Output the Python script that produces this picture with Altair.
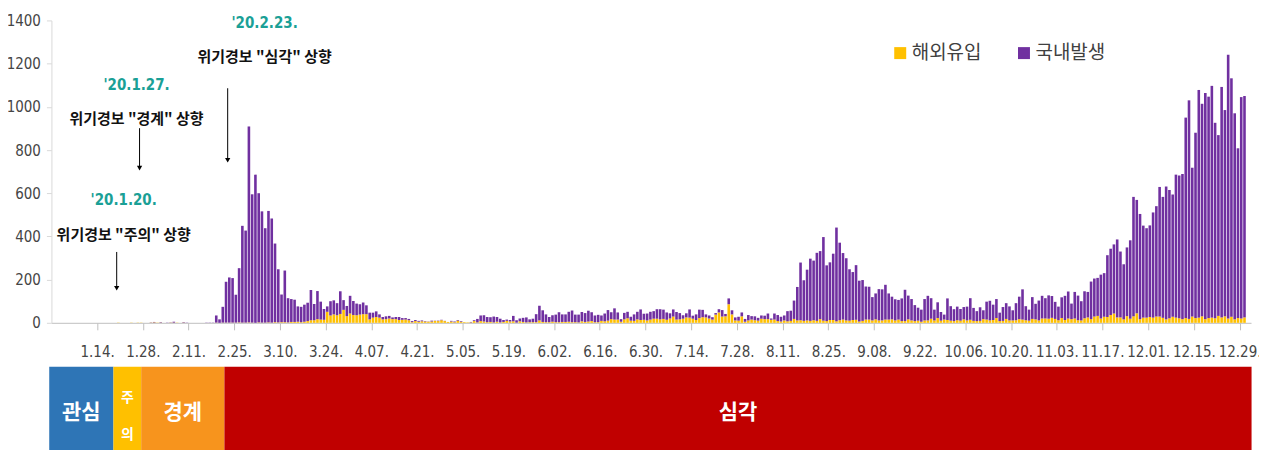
import altair as alt
import pandas as pd

# ---------------- data (daily new cases, 2020-01-20 .. 2020-12-30) ----------------
total_jan = [1, 0, 0, 0, 1, 0, 1, 1, 0, 0, 2, 4]  # Jan 20-31
imp_jan = [1, 0, 0, 0, 1, 0, 1, 1, 0, 0, 1, 2]
total_feb = [1, 3, 0, 1, 2, 5, 1, 0, 3, 1, 0, 0, 0, 0, 0, 1, 1, 1, 34, 16,
             74, 190, 210, 207, 130, 253, 449, 427, 909]
imp_feb = [1, 1, 0, 0, 1, 1, 1, 0, 1, 0, 0, 0, 0, 0, 0, 0, 0, 0, 1, 0,
           1, 1, 1, 1, 1, 2, 1, 1, 2]
total_mar = [595, 686, 600, 516, 438, 518, 483, 367, 248, 131, 242, 114, 110, 107, 76, 74,
             84, 93, 152, 87, 147, 98, 64, 76, 100, 104, 91, 146, 105, 78, 125]
imp_mar = [1, 0, 2, 1, 1, 2, 1, 3, 2, 3, 3, 2, 4, 4, 5, 3, 5, 8, 12, 12, 17, 15, 14, 51,
           34, 39, 35, 41, 60, 31, 43]
total_apr = [101, 89, 86, 94, 81, 47, 47, 53, 39, 27, 30, 32, 25, 27, 27, 22, 22, 18, 8, 13,
             9, 11, 8, 6, 10, 10, 10, 14, 9, 4]
imp_apr = [36, 35, 38, 40, 40, 16, 24, 27, 24, 16, 17, 20, 17, 17, 13, 14, 15, 12, 3, 8,
           5, 7, 6, 5, 6, 9, 8, 12, 8, 4]
total_may = [9, 6, 13, 8, 3, 2, 4, 12, 18, 34, 35, 27, 26, 29, 27, 19, 13, 15, 13, 32,
             12, 20, 23, 25, 16, 19, 40, 79, 58, 39, 27]
imp_may = [6, 3, 10, 5, 3, 2, 2, 8, 2, 8, 6, 3, 4, 2, 5, 2, 4, 9, 6, 7,
           1, 7, 4, 2, 3, 3, 3, 11, 4, 3, 3]
total_jun = [35, 38, 49, 39, 39, 51, 57, 38, 38, 50, 45, 56, 49, 34, 37, 34, 43, 59, 49, 67,
             48, 17, 46, 51, 28, 39, 51, 62, 42, 43]
imp_jun = [5, 3, 3, 4, 4, 5, 3, 3, 2, 7, 4, 6, 8, 3, 3, 9, 7, 10, 17, 15,
           15, 5, 16, 21, 10, 9, 16, 13, 14, 11]
total_jul = [51, 54, 63, 63, 61, 48, 44, 62, 50, 45, 35, 44, 62, 33, 39, 61, 60, 39, 34, 26,
             45, 63, 59, 41, 113, 58, 25, 28, 48, 18, 36]
imp_jul = [15, 19, 19, 16, 18, 14, 20, 29, 15, 16, 19, 25, 24, 19, 13, 22, 26, 25, 20, 15,
           38, 48, 29, 30, 86, 39, 11, 10, 30, 5, 11]
total_aug = [31, 30, 23, 34, 33, 43, 20, 43, 36, 28, 34, 54, 56, 103, 166, 279, 197, 246, 297, 288,
             324, 332, 397, 266, 280, 320, 441, 371, 323, 299, 248]
imp_aug = [15, 12, 10, 19, 17, 17, 14, 15, 8, 6, 11, 7, 9, 18, 11, 12, 9, 11, 9, 12,
           9, 17, 10, 8, 13, 13, 7, 12, 15, 11, 10]
total_sep = [235, 267, 195, 198, 168, 167, 119, 136, 156, 155, 176, 136, 121, 109, 106, 113, 153, 126, 110, 82,
             70, 61, 110, 125, 114, 61, 95, 50, 38, 113]
imp_sep = [13, 14, 6, 9, 15, 15, 11, 16, 11, 11, 15, 15, 16, 11, 15, 8, 8, 16, 11, 8,
           10, 5, 11, 11, 19, 11, 22, 10, 15, 13]
total_oct = [77, 63, 75, 64, 73, 75, 114, 69, 54, 72, 58, 98, 102, 84, 110, 47, 73, 91, 76, 58,
             91, 121, 155, 77, 61, 119, 88, 103, 125, 114, 127]
imp_oct = [10, 8, 12, 10, 16, 11, 14, 9, 8, 9, 17, 15, 11, 13, 22, 8, 9, 18, 11, 11,
           12, 17, 15, 12, 10, 18, 16, 11, 20, 20, 19]
total_nov = [124, 97, 75, 118, 125, 145, 89, 143, 126, 100, 146, 143, 191, 205, 208, 223, 230, 313, 343, 363,
             386, 330, 271, 349, 382, 583, 569, 504, 450, 438]
imp_nov = [23, 18, 12, 22, 13, 20, 17, 20, 12, 11, 21, 25, 17, 29, 32, 20, 28, 27, 36, 43,
           25, 25, 16, 31, 19, 30, 44, 17, 24, 24]
total_dec = [451, 511, 540, 629, 583, 631, 615, 594, 686, 682, 689, 950, 1030, 718, 880, 1078, 1014, 1064, 1047, 1097,
             926, 869, 1092, 985, 1241, 1132, 970, 808, 1045, 1050]
imp_dec = [27, 24, 29, 29, 23, 16, 21, 28, 24, 21, 17, 22, 18, 29, 22, 24, 30, 17, 22, 24,
           21, 32, 25, 30, 20, 28, 16, 22, 20, 25]

series_names = ["해외유입", "국내발생"]
series_colors = ["#FFC000", "#7030A0"]

tick_dates = ["2020-01-14", "2020-01-28", "2020-02-11", "2020-02-25", "2020-03-10", "2020-03-24",
              "2020-04-07", "2020-04-21", "2020-05-05", "2020-05-19", "2020-06-02", "2020-06-16",
              "2020-06-30", "2020-07-14", "2020-07-28", "2020-08-11", "2020-08-25", "2020-09-08",
              "2020-09-22", "2020-10-06", "2020-10-20", "2020-11-03", "2020-11-17", "2020-12-01",
              "2020-12-15", "2020-12-29"]
y_ticks = [0, 200, 400, 600, 800, 1000, 1200, 1400]

ann_dates = ["2020-01-20T00:00:00", "2020-01-27T00:00:00", "2020-02-23T00:00:00"]
ann_years = ["'20.1.20.", "'20.1.27.", "'20.2.23."]
ann_texts = ['위기경보 "주의" 상향', '위기경보 "경계" 상향', '위기경보 "심각" 상향']

levels = ["관심", "주의", "경계", "심각"]
level_start = ["2019-12-30T08:00:00", "2020-01-19T00:00:00", "2020-01-27T12:00:00", "2020-02-22T00:00:00"]
level_end = ["2020-01-19T00:00:00", "2020-01-27T12:00:00", "2020-02-22T00:00:00", "2021-01-01T16:00:00"]
level_colors = ["#2E75B6", "#FFC000", "#F7941D", "#C00000"]

# ---------------- build table ----------------
totals = (total_jan + total_feb + total_mar + total_apr + total_may + total_jun +
          total_jul + total_aug + total_sep + total_oct + total_nov + total_dec)
imports = (imp_jan + imp_feb + imp_mar + imp_apr + imp_may + imp_jun +
           imp_jul + imp_aug + imp_sep + imp_oct + imp_nov + imp_dec)
dates = pd.date_range("2020-01-20", periods=len(totals), freq="D")
rows = []
for d, t, im in zip(dates, totals, imports):
    ds = (d + pd.Timedelta(hours=12)).strftime("%Y-%m-%dT%H:%M:%S")
    rows.append({"date": ds, "series": series_names[0], "value": im, "ord": 0})
    rows.append({"date": ds, "series": series_names[1], "value": t - im, "ord": 1})
df = pd.DataFrame(rows)

num_font = "Liberation Sans Narrow, DejaVu Sans Condensed, sans-serif"
kr_font = "Noto Sans CJK KR"


def dt(s):
    ts = pd.Timestamp(s)
    return alt.DateTime(year=ts.year, month=ts.month, date=ts.day, hours=ts.hour, minutes=ts.minute)


xscale = alt.Scale(domain=[dt("2019-12-31T00:00"), dt("2021-01-01T12:00")], nice=False, padding=0)
yscale = alt.Scale(domain=[0, 1400], nice=False)

bars = alt.Chart(df).mark_bar(size=2.6).encode(
    x=alt.X("date:T", scale=xscale,
            axis=alt.Axis(values=[dt(t) for t in tick_dates], format="%-m.%d.", title=None,
                          labelFont=num_font, labelFontSize=15, labelColor="#454545",
                          tickColor="#BFBFBF", domainColor="#BFBFBF", tickSize=7,
                          labelPadding=15, grid=False, labelAngle=0, labelFlush=False,
                          labelOverlap=False)),
    y=alt.Y("value:Q", stack="zero", scale=yscale,
            axis=alt.Axis(values=y_ticks, format="d", title=None, labelFont=num_font,
                          labelFontSize=15, labelColor="#454545", tickColor="#D9D9D9",
                          domainColor="#D9D9D9", tickSize=5, labelPadding=6, grid=False)),
    color=alt.Color("series:N", scale=alt.Scale(domain=series_names, range=series_colors),
                    legend=alt.Legend(orient="none", legendX=841, legendY=23, direction="horizontal",
                                      title=None, symbolType="square", symbolSize=144,
                                      symbolStrokeWidth=0, labelFont=kr_font, labelFontSize=19,
                                      labelColor="#404040", columnPadding=33, labelOffset=2,
                                      padding=0)),
    order=alt.Order("ord:Q"),
)

layers = [bars]

# annotation layout (anchored on dates and values)
year_y = [568, 1100, 1386]
text_y = [407, 943, 1229]
arrow_top = [328, 901, 1086]
arrow_tip = [160, 716, 753]
text_dx = [7, -3, 37]

for i in range(3):
    a = pd.DataFrame({"date": [ann_dates[i]], "year": [ann_years[i]], "txt": [ann_texts[i]],
                      "yy": [year_y[i]], "ty": [text_y[i]], "a1": [arrow_top[i]], "a2": [arrow_tip[i]]})
    base = alt.Chart(a).encode(x=alt.X("date:T", scale=xscale, title=None))
    layers.append(base.mark_text(font=num_font, fontSize=15, fontWeight="bold", color="#1AA096",
                                 dx=text_dx[i], baseline="middle").encode(
        y=alt.Y("yy:Q", scale=yscale, title=None), text="year:N"))
    layers.append(base.mark_text(font=kr_font, fontSize=15, fontWeight="bold", color="#111111",
                                 dx=text_dx[i], baseline="middle").encode(
        y=alt.Y("ty:Q", scale=yscale, title=None), text="txt:N"))
    layers.append(base.mark_rule(color="black", strokeWidth=1).encode(
        y=alt.Y("a1:Q", scale=yscale, title=None), y2="a2:Q"))
    layers.append(base.mark_point(shape="triangle-down", filled=True, size=28, color="black",
                                  opacity=1).encode(y=alt.Y("a2:Q", scale=yscale, title=None)))

# alert level band under the axis
for i in range(4):
    b = pd.DataFrame({"date": [level_start[i]], "end": [level_end[i]], "level": [levels[i]]})
    layers.append(alt.Chart(b).mark_rect(color=level_colors[i]).encode(
        x=alt.X("date:T", scale=xscale, title=None), x2="end:T",
        y=alt.value(347), y2=alt.value(440)))

lab = pd.DataFrame({"date": level_start, "end": level_end, "level": levels})
lab_main = lab[lab["level"] != levels[1]]
layers.append(alt.Chart(lab_main).transform_calculate(
    mid="(toDate(datum.date) + toDate(datum.end)) / 2").mark_text(
    font=kr_font, fontSize=21, fontWeight="bold", color="white", baseline="middle").encode(
    x=alt.X("mid:T", scale=xscale, title=None), y=alt.value(393), text="level:N"))
lab_small = lab[lab["level"] == levels[1]].assign(level=lambda d: d["level"].map(lambda s: "\n".join(s)))
layers.append(alt.Chart(lab_small).transform_calculate(
    mid="(toDate(datum.date) + toDate(datum.end)) / 2").mark_text(
    font=kr_font, fontSize=14, fontWeight="bold", color="white", baseline="middle",
    lineBreak="\n", lineHeight=37).encode(
    x=alt.X("mid:T", scale=xscale, title=None), y=alt.value(378), text="level:N"))

chart = alt.layer(*layers).properties(
    width=1202, height=303,
    autosize=alt.AutoSizeParams(type="none"),
    padding={"left": 43.5, "top": 12, "right": 8, "bottom": 127},
).configure_view(stroke=None)

chart.save("out.html", embed_options={"renderer": "svg", "actions": False})
